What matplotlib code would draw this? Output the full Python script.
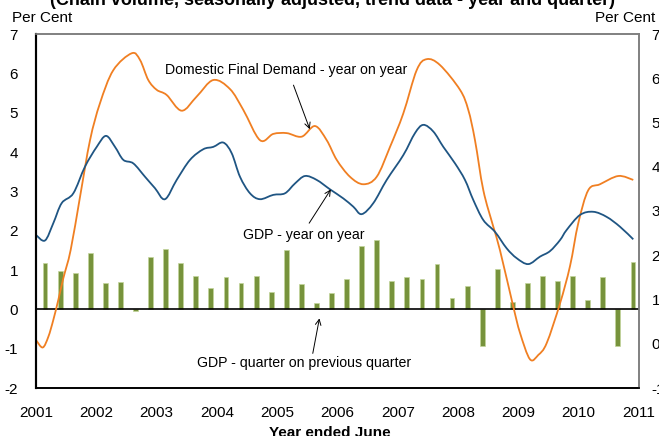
import numpy as np
import matplotlib
matplotlib.use('Agg')
import matplotlib.pyplot as plt
from matplotlib.path import Path
from matplotlib.patches import PathPatch

plt.rcParams['font.family'] = ['Liberation Sans', 'DejaVu Sans']
plt.rcParams['axes.unicode_minus'] = False

# GDP - quarter on previous quarter (bars), Sep-2001 .. Jun-2011
gdp_qoq = [1.17, 0.98, 0.92, 1.42, 0.68, 0.70, -0.05, 1.34, 1.54, 1.17,
           0.85, 0.53, 0.83, 0.66, 0.85, 0.45, 1.51, 0.64, 0.17, 0.41,
           0.76, 1.61, 1.75, 0.71, 0.81, 0.78, 1.14, 0.29, 0.60, -0.93,
           1.02, 0.19, 0.66, 0.85, 0.73, 0.85, 0.25, 0.83, -0.92, 1.20]
bar_years = 2001.15 + 0.25 * np.arange(len(gdp_qoq))

# Domestic final demand - year on year (traced)
dfd_years = [2001.000, 2001.111, 2001.204, 2001.287, 2001.370, 2001.453, 2001.575,
             2001.730, 2001.896, 2002.061, 2002.282, 2002.587, 2002.725, 2002.862,
             2003.002, 2003.167, 2003.416, 2003.665, 2003.940, 2004.217, 2004.438,
             2004.715, 2004.935, 2005.158, 2005.406, 2005.627, 2005.821, 2005.987,
             2006.207, 2006.428, 2006.650, 2006.871, 2007.091, 2007.313, 2007.479,
             2007.700, 2008.032, 2008.169, 2008.280, 2008.418, 2008.584, 2008.695,
             2008.915, 2009.027, 2009.192, 2009.330, 2009.469, 2009.690, 2009.856,
             2009.993, 2010.159, 2010.353, 2010.657, 2010.905]
dfd_yoy = [-0.78, -0.97, -0.70, -0.27, 0.24, 0.79, 1.51,
           2.86, 4.30, 5.24, 6.08, 6.51, 6.34, 5.83,
           5.58, 5.45, 5.05, 5.41, 5.83, 5.60, 5.07,
           4.30, 4.46, 4.48, 4.39, 4.66, 4.30, 3.80,
           3.37, 3.18, 3.37, 4.13, 4.98, 6.08, 6.36,
           6.21, 5.58, 5.07, 4.30, 3.03, 2.10, 1.50,
           0.07, -0.60, -1.27, -1.16, -0.86, 0.15, 1.10,
           2.19, 3.03, 3.18, 3.39, 3.29]

# GDP - year on year (traced)
gdp_years = [2001.000, 2001.149, 2001.287, 2001.426, 2001.619, 2001.813, 2002.007,
             2002.161, 2002.310, 2002.448, 2002.614, 2002.808, 2002.973, 2003.139,
             2003.333, 2003.554, 2003.774, 2003.940, 2004.106, 2004.245, 2004.383,
             2004.549, 2004.715, 2004.935, 2005.129, 2005.295, 2005.461, 2005.655,
             2005.876, 2006.096, 2006.262, 2006.401, 2006.594, 2006.816, 2007.091,
             2007.285, 2007.423, 2007.589, 2007.755, 2007.949, 2008.114, 2008.252,
             2008.418, 2008.612, 2008.806, 2008.972, 2009.164, 2009.358, 2009.524,
             2009.690, 2009.801, 2010.022, 2010.242, 2010.464, 2010.685, 2010.905]
gdp_yoy = [1.89, 1.75, 2.19, 2.70, 2.95, 3.63, 4.13,
           4.41, 4.13, 3.80, 3.71, 3.37, 3.08, 2.80,
           3.29, 3.80, 4.07, 4.13, 4.24, 3.97, 3.37,
           2.95, 2.80, 2.91, 2.95, 3.20, 3.39, 3.29,
           3.05, 2.82, 2.61, 2.42, 2.70, 3.29, 3.92,
           4.48, 4.69, 4.52, 4.13, 3.71, 3.29, 2.78,
           2.27, 1.97, 1.55, 1.30, 1.15, 1.34, 1.48,
           1.76, 2.02, 2.40, 2.48, 2.35, 2.10, 1.78]

left_ticks = list(range(-2, 8))
right_ticks = list(range(-1, 8))
x_ticks = list(range(2001, 2012))


def smooth_path(xs, ys):
    # Excel-style smoothed line: Bezier segments through the points
    p = np.column_stack([xs, ys])
    verts = [p[0]]
    codes = [Path.MOVETO]
    for i in range(len(p) - 1):
        p0 = p[i - 1] if i > 0 else p[i]
        p3 = p[i + 2] if i + 2 < len(p) else p[i + 1]
        c1 = p[i] + (p[i + 1] - p0) / 6
        c2 = p[i + 1] - (p3 - p[i]) / 6
        verts += [c1, c2, p[i + 1]]
        codes += [Path.CURVE4] * 3
    return Path(verts, codes)


fig = plt.figure(figsize=(6.59, 4.36), dpi=100)
ax = fig.add_axes([36/659, 48/436, 603/659, 354/436])

ax.bar(bar_years, gdp_qoq, width=0.08, color='#77933C', edgecolor='#C3D69B',
       linewidth=0.5, zorder=2)
ax.axhline(0, color='black', lw=1.2, zorder=3)
ax.add_patch(PathPatch(smooth_path(dfd_years, dfd_yoy), facecolor='none',
                       edgecolor='#F07F22', lw=1.3, zorder=4))
ax.add_patch(PathPatch(smooth_path(gdp_years, gdp_yoy), facecolor='none',
                       edgecolor='#1F5583', lw=1.3, zorder=4))

ax.set_xlim(2001, 2011)
ax.set_ylim(-2, 7)
ax.set_xticks(x_ticks)
ax.set_yticks(left_ticks)
ax.tick_params(axis='both', length=0, labelsize=11)
ax.tick_params(axis='y', pad=13)
ax.tick_params(axis='x', pad=13)

ax2 = ax.twinx()
ax2.set_ylim(-1, 7)
ax2.set_yticks(right_ticks)
ax2.tick_params(axis='y', length=0, labelsize=11, pad=9)

for a in (ax, ax2):
    a.spines['left'].set_color('black')
    a.spines['left'].set_linewidth(1.5)
    a.spines['bottom'].set_color('black')
    a.spines['bottom'].set_linewidth(1.2)
    a.spines['top'].set_color('#808080')
    a.spines['top'].set_linewidth(1.2)
    a.spines['right'].set_color('#808080')
    a.spines['right'].set_linewidth(1.2)

arrow = dict(arrowstyle='->', color='black', lw=0.7, shrinkA=0, shrinkB=0)
ax.text(2005.15, 6.08, 'Domestic Final Demand - year on year', fontsize=10.2,
        ha='center', va='center', zorder=5)
ax.annotate('', xy=(2005.54, 4.58), xytext=(2005.27, 5.70), arrowprops=arrow, zorder=5)
ax.text(2005.44, 1.89, 'GDP - year on year', fontsize=10.2,
        ha='center', va='center', zorder=5)
ax.annotate('', xy=(2005.89, 3.05), xytext=(2005.53, 2.19), arrowprops=arrow, zorder=5)
ax.text(2005.44, -1.37, 'GDP - quarter on previous quarter', fontsize=10.2,
        ha='center', va='center', zorder=5)
ax.annotate('', xy=(2005.70, -0.23), xytext=(2005.59, -1.12), arrowprops=arrow, zorder=5)

fig.text(12/659, 1 - 18/436, 'Per Cent', fontsize=11, ha='left', va='center')
fig.text(655/659, 1 - 18/436, 'Per Cent', fontsize=11, ha='right', va='center')
fig.text(0.5, 1 - 433/436, 'Year ended June', fontsize=11, fontweight='bold',
         ha='center', va='center')
fig.text(0.505, 0.988, '(Chain volume, seasonally adjusted, trend data - year and quarter)',
         fontsize=13, fontweight='bold', ha='center', va='baseline')

fig.savefig('out.png', dpi=100)
